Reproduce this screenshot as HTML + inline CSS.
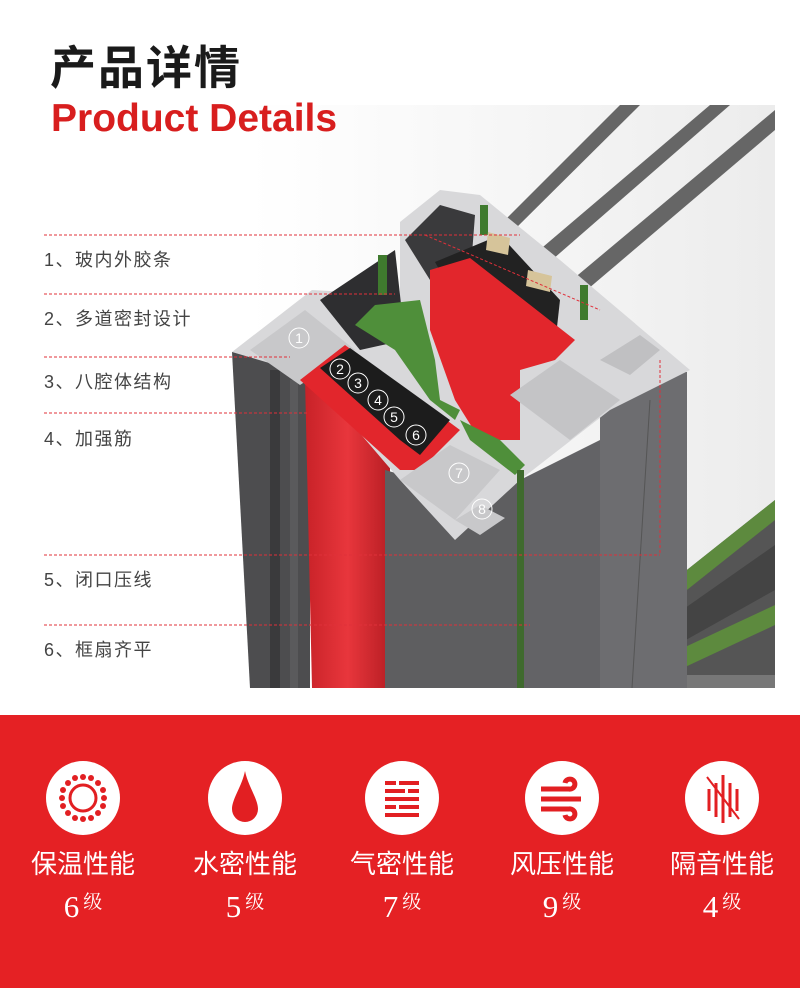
<!DOCTYPE html>
<html><head><meta charset="utf-8"><style>
*{margin:0;padding:0}
body{width:800px;height:988px;background:#fff;position:relative;overflow:hidden;font-family:"Liberation Sans","Noto Sans CJK SC",sans-serif}
.t1{position:absolute;left:50px;top:32px;font-size:46px;font-weight:bold;color:#1a1a1a;letter-spacing:2px}
.t2{position:absolute;left:51px;top:97px;font-size:39px;font-weight:bold;color:#d81e1e}
.lab{position:absolute;left:44px;font-size:18px;color:#444;letter-spacing:1.5px}
.band{position:absolute;left:0;top:715px;width:800px;height:273px;background:#e52124}
.it{position:absolute;top:761px;width:160px;text-align:center;color:#fff}
.c{width:74px;height:74px;border-radius:50%;background:#fff;margin:0 auto;position:relative}
.n{font-size:26px;margin-top:9px;letter-spacing:0px}
.g{font-family:"Liberation Serif","Noto Serif CJK SC",serif;font-size:31px;margin-top:6px}
.g span{font-size:19px;vertical-align:9px;margin-left:4px}
</style></head><body>
<svg style="position:absolute;left:0;top:0" width="800" height="715">
<defs>
<linearGradient id="bg" x1="0" y1="0" x2="1" y2="0"><stop offset="0" stop-color="#fff"/><stop offset="0.5" stop-color="#f6f6f6"/><stop offset="1" stop-color="#ececec"/></linearGradient>
<linearGradient id="rd" x1="0" x2="1"><stop offset="0" stop-color="#c82228"/><stop offset="0.5" stop-color="#e8363c"/><stop offset="1" stop-color="#b81e24"/></linearGradient>
</defs>
<rect x="250" y="105" width="525" height="583" fill="url(#bg)"/>
<polygon points="500,225 512,232 640,105 620,105" fill="#666"/>
<polygon points="530,258 545,266 730,105 710,105" fill="#666"/>
<polygon points="560,290 575,300 775,130 775,110" fill="#666"/>
<polygon points="668,585 775,500 775,688 668,688" fill="#555"/>
<polygon points="668,585 775,500 775,520 668,605" fill="#5d8a3e"/>
<polygon points="668,655 775,605 775,625 668,675" fill="#5d8a3e"/>
<polygon points="668,620 775,545 775,590 668,650" fill="#444"/>
<rect x="668" y="675" width="107" height="13" fill="#777"/>
<polygon points="232,352 310,345 310,688 250,688" fill="#4d4d4f"/>
<rect x="270" y="370" width="10" height="318" fill="#3a3a3c"/>
<rect x="290" y="380" width="8" height="308" fill="#5a5a5c"/>
<polygon points="305,378 390,430 390,688 312,688" fill="url(#rd)"/>
<polygon points="385,470 455,490 520,470 520,688 385,688" fill="#5e5e60"/>
<polygon points="520,480 600,440 600,688 520,688" fill="#636366"/>
<polygon points="600,395 655,370 687,372 687,688 600,688" fill="#6d6d70"/>
<line x1="650" y1="400" x2="632" y2="688" stroke="#555" stroke-width="1"/>
<polygon points="232,352 312,290 400,295 400,222 440,190 480,195 560,260 690,370 610,410 520,480 455,540 400,480 310,375" fill="#d8d8da"/>
<polygon points="250,350 305,310 355,350 300,385" fill="#c8c8ca"/>
<polygon points="320,300 395,250 405,340 360,350" fill="#2e2e30"/>
<polygon points="405,240 440,205 475,215 470,280 430,280" fill="#3a3a3c"/>
<polygon points="435,262 500,235 560,300 555,345 500,380" fill="#222"/>
<polygon points="430,270 470,258 575,340 555,360 520,370 520,440 480,440 455,400 430,330" fill="#e2262c"/>
<polygon points="300,380 345,345 460,430 420,470 400,470" fill="#e2262c"/>
<polygon points="320,368 350,348 450,420 420,455 400,440" fill="#1c1c1c"/>
<polygon points="355,325 375,305 420,300 435,360 440,400 460,410 455,420 430,400 395,350" fill="#4f8f3a"/>
<polygon points="460,420 500,440 525,465 515,475 470,440" fill="#4f8f3a"/>
<rect x="378" y="255" width="9" height="40" fill="#3f7a2e"/>
<rect x="480" y="205" width="8" height="30" fill="#3f7a2e"/>
<rect x="580" y="285" width="8" height="35" fill="#3f7a2e"/>
<rect x="517" y="470" width="7" height="218" fill="#3f6a2e"/>
<polygon points="488,232 510,238 508,255 486,250" fill="#d6c49a"/>
<polygon points="528,270 552,276 550,292 526,286" fill="#d6c49a"/>
<polygon points="510,395 560,360 620,400 570,440" fill="#c4c4c6"/>
<polygon points="400,480 450,445 500,470 455,520" fill="#c8c8ca"/>
<polygon points="455,520 480,505 505,518 480,535" fill="#c8c8ca"/>
<polygon points="600,360 640,335 660,350 630,375" fill="#c0c0c2"/>
<g font-family="Liberation Sans,sans-serif" font-size="14" fill="#fff" text-anchor="middle">
<g fill="none" stroke="#fff" stroke-width="1">
<circle cx="299" cy="338" r="10"/><circle cx="340" cy="369" r="10"/><circle cx="358" cy="383" r="10"/><circle cx="378" cy="400" r="10"/><circle cx="394" cy="417" r="10"/><circle cx="416" cy="435" r="10"/><circle cx="459" cy="473" r="10"/><circle cx="482" cy="509" r="10"/></g>
<text x="299" y="343">1</text><text x="340" y="374">2</text><text x="358" y="388">3</text><text x="378" y="405">4</text><text x="394" y="422">5</text><text x="416" y="440">6</text><text x="459" y="478">7</text><text x="482" y="514">8</text>
</g>
<g stroke="#e0303a" stroke-width="1" stroke-dasharray="3,2" fill="none">
<line x1="44" y1="235" x2="520" y2="235"/>
<line x1="44" y1="294" x2="395" y2="294"/>
<line x1="44" y1="357" x2="290" y2="357"/>
<line x1="44" y1="413" x2="307" y2="413"/>
<line x1="44" y1="555" x2="660" y2="555"/>
<line x1="660" y1="360" x2="660" y2="555"/>
<line x1="44" y1="625" x2="530" y2="625"/>
<line x1="425" y1="235" x2="600" y2="310"/>
</g>
</svg>
<div class="t1">产品详情</div>
<div class="t2">Product Details</div>
<div class="lab" style="top:246px">1、玻内外胶条</div>
<div class="lab" style="top:305px">2、多道密封设计</div>
<div class="lab" style="top:368px">3、八腔体结构</div>
<div class="lab" style="top:425px">4、加强筋</div>
<div class="lab" style="top:566px">5、闭口压线</div>
<div class="lab" style="top:636px">6、框扇齐平</div>
<div class="band"></div>
<div class="it" style="left:3px"><div class="c"><svg width="74" height="74"><g fill="#e21f22"><circle cx="37" cy="37" r="13" fill="none" stroke="#e21f22" stroke-width="3"/>
<circle cx="37" cy="16" r="3"/><circle cx="37" cy="58" r="3"/><circle cx="16" cy="37" r="3"/><circle cx="58" cy="37" r="3"/><circle cx="22" cy="22" r="3"/><circle cx="52" cy="22" r="3"/><circle cx="22" cy="52" r="3"/><circle cx="52" cy="52" r="3"/><circle cx="29" cy="17" r="3"/><circle cx="45" cy="17" r="3"/><circle cx="29" cy="57" r="3"/><circle cx="45" cy="57" r="3"/><circle cx="17" cy="29" r="3"/><circle cx="57" cy="29" r="3"/><circle cx="17" cy="45" r="3"/><circle cx="57" cy="45" r="3"/></g></svg></div><div class="n">保温性能</div><div class="g">6<span>级</span></div></div>
<div class="it" style="left:165px"><div class="c"><svg width="74" height="74"><path d="M37 10 C34 25 24 38 24 48 A13 13 0 0 0 50 48 C50 38 40 25 37 10Z" fill="#e21f22"/></svg></div><div class="n">水密性能</div><div class="g">5<span>级</span></div></div>
<div class="it" style="left:322px"><div class="c"><svg width="74" height="74"><g fill="#e21f22"><rect x="20" y="20" width="11" height="4"/><rect x="34" y="20" width="20" height="4"/><rect x="20" y="28" width="20" height="4"/><rect x="43" y="28" width="11" height="4"/><rect x="20" y="36" width="34" height="4"/><rect x="20" y="44" width="11" height="4"/><rect x="34" y="44" width="20" height="4"/><rect x="20" y="52" width="34" height="4"/></g></svg></div><div class="n">气密性能</div><div class="g">7<span>级</span></div></div>
<div class="it" style="left:482px"><div class="c"><svg width="74" height="74"><g fill="none" stroke="#e21f22" stroke-width="5"><path d="M16 28 H44 A5 5 0 1 0 40 22"/><path d="M16 38 H56"/><path d="M16 48 H44 A5 5 0 1 1 40 54"/></g></svg></div><div class="n">风压性能</div><div class="g">9<span>级</span></div></div>
<div class="it" style="left:642px"><div class="c"><svg width="74" height="74"><g stroke="#e21f22" stroke-width="3"><line x1="24" y1="28" x2="24" y2="50"/><line x1="31" y1="22" x2="31" y2="56"/><line x1="38" y1="14" x2="38" y2="62"/><line x1="45" y1="22" x2="45" y2="56"/><line x1="52" y1="28" x2="52" y2="50"/><line x1="22" y1="16" x2="54" y2="58" stroke-width="2"/></g></svg></div><div class="n">隔音性能</div><div class="g">4<span>级</span></div></div>
</body></html>
